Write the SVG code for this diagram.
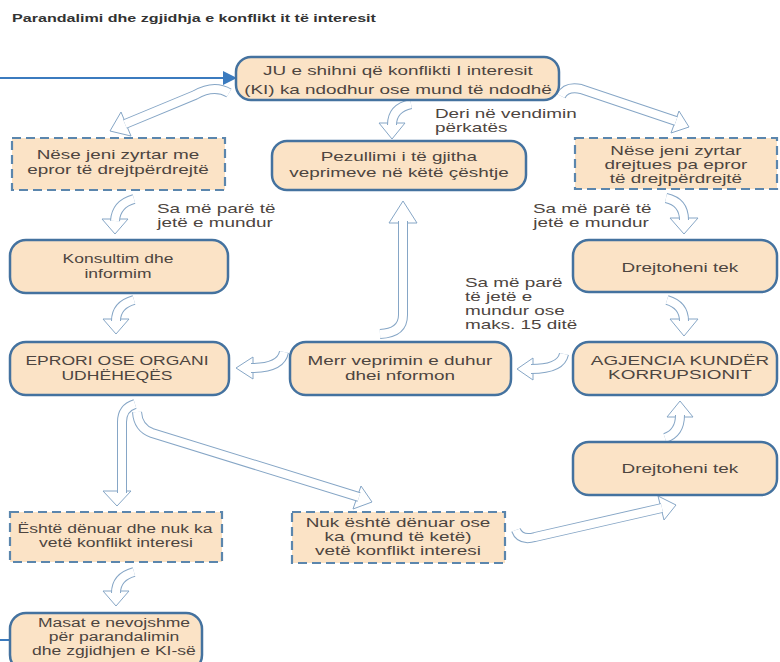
<svg xmlns="http://www.w3.org/2000/svg" width="780" height="662" viewBox="0 0 780 662">
<style>
.bx{fill:#fbe3c6;stroke:#44729f;stroke-width:2.5}
.dx{fill:#fbe3c6;stroke:#5b86ad;stroke-width:2.2;stroke-dasharray:9 5}
text{font-family:"Liberation Sans",Arial,sans-serif;font-size:13.5px;fill:#4d4540}
.c{text-anchor:middle;transform-box:fill-box;transform-origin:center;transform:scaleX(1.4)}
.c2{text-anchor:middle;transform-box:fill-box;transform-origin:center;transform:scaleX(1.3)}
.l{transform-box:fill-box;transform-origin:left center;transform:scaleX(1.4)}
.ks{font-size:12.5px}
.title{font-weight:bold;font-size:11.5px;fill:#333}
.bo{fill:none;stroke:#86a6c6;stroke-width:10}
.bi{fill:none;stroke:#fff;stroke-width:8}
.hd{fill:#fff;stroke:#86a6c6;stroke-width:1}
.ln{fill:none;stroke:#3b7bbf;stroke-width:2}
</style>
<rect width="780" height="662" fill="#fff"/>
<text x="12" y="22" class="title l">Parandalimi dhe zgjidhja e konflikt it të interesit</text>

<g id="connectors">
  <path class="ln" d="M0 78 L225 78"/>
  <polygon points="223,71 237,78 223,85" fill="#3b7bbf"/>
  <path class="ln" d="M0 640 L10 640"/>
  <!-- JU -> left dashed -->
  <g><polygon class="hd" points="121,112 131,136 110,131"/><path class="bo" d="M229 93 Q214 84 195 95 L125 124"/><path class="bi" d="M229 93 Q214 84 195 95 L125 124"/></g>
  <!-- JU -> Pezullimi -->
  <g><polygon class="hd" points="379,123 405,123 392,139"/><path class="bo" d="M411 104 Q392 108 392 125"/><path class="bi" d="M411 104 Q392 108 392 125"/></g>
  <!-- JU -> right dashed -->
  <g><polygon class="hd" points="671,133 679,111 689,127"/><path class="bo" d="M561 96 Q566 86 581 89 L676 121"/><path class="bi" d="M561 96 Q566 86 581 89 L676 121"/></g>
  <!-- left dashed -> Konsultim -->
  <g><polygon class="hd" points="102,219 128,219 115,234"/><path class="bo" d="M134 199 Q116 204 115 221"/><path class="bi" d="M134 199 Q116 204 115 221"/></g>
  <!-- right dashed -> Drejtoheni -->
  <g><polygon class="hd" points="670,218 698,218 684,234"/><path class="bo" d="M666 198 Q684 202 684 220"/><path class="bi" d="M666 198 Q684 202 684 220"/></g>
  <!-- Konsultim -> EPRORI -->
  <g><polygon class="hd" points="103,319 129,319 116,334"/><path class="bo" d="M134 300 Q116 305 116 321"/><path class="bi" d="M134 300 Q116 305 116 321"/></g>
  <!-- Drejtoheni -> AGJENCIA -->
  <g><polygon class="hd" points="670,319 698,319 684,336"/><path class="bo" d="M667 300 Q684 305 684 321"/><path class="bi" d="M667 300 Q684 305 684 321"/></g>
  <!-- AGJENCIA -> Merr -->
  <g><polygon class="hd" points="533,358 533,380 517,369"/><path class="bo" d="M564 354 Q561 369 531 369"/><path class="bi" d="M564 354 Q561 369 531 369"/></g>
  <!-- Merr -> EPRORI -->
  <g><polygon class="hd" points="253,357 253,379 236,368"/><path class="bo" d="M284 352 Q281 368 251 368"/><path class="bi" d="M284 352 Q281 368 251 368"/></g>
  <!-- Merr -> Pezullimi -->
  <g><polygon class="hd" points="389,223 417,223 403,201"/><path class="bo" d="M380 334 Q403 333 403 315 L403 221"/><path class="bi" d="M380 334 Q403 333 403 315 L403 221"/></g>
  <!-- EPRORI -> Eshte -->
  <g><polygon class="hd" points="103,491 131,491 117,506"/><path class="bo" d="M135 404 Q122 408 122 422 L122 493"/><path class="bi" d="M135 404 Q122 408 122 422 L122 493"/></g>
  <!-- EPRORI -> Nuk -->
  <g><polygon class="hd" points="353,509 361,486 372,502"/><path class="bo" d="M137 412 Q138 428 152 433 L359 497"/><path class="bi" d="M137 412 Q138 428 152 433 L359 497"/></g>
  <!-- Eshte -> Masat -->
  <g><polygon class="hd" points="103,591 129,591 116,606"/><path class="bo" d="M134 572 Q116 577 116 593"/><path class="bi" d="M134 572 Q116 577 116 593"/></g>
  <!-- Nuk -> Drejtoheni 2 -->
  <g><polygon class="hd" points="664,520 658,496 676,505"/><path class="bo" d="M516 530 Q520 541 535 537 L662 508"/><path class="bi" d="M516 530 Q520 541 535 537 L662 508"/></g>
  <!-- Drejtoheni 2 -> AGJENCIA -->
  <g><polygon class="hd" points="667,417 693,417 680,401"/><path class="bo" d="M665 438 Q680 433 680 415"/><path class="bi" d="M665 438 Q680 433 680 415"/></g>
</g>

<g id="n_ju"><rect class="bx" x="236" y="57" width="323" height="43" rx="15"/>
<text class="c" x="398" y="75">JU e shihni që konflikti I interesit</text>
<text class="c" x="398" y="94">(KI) ka ndodhur ose mund të ndodhë</text></g>

<g id="n_left"><rect class="dx" x="12" y="138" width="213" height="52"/>
<text class="c" x="118" y="159">Nëse jeni zyrtar me</text>
<text class="c" x="118" y="174">epror të drejtpërdrejtë</text></g>

<g id="n_pez"><rect class="bx" x="272" y="141" width="254" height="49" rx="15"/>
<text class="c" x="399" y="161">Pezullimi i të gjitha</text>
<text class="c" x="399" y="177">veprimeve në këtë çështje</text></g>

<g id="n_right"><rect class="dx" x="575" y="138" width="202" height="51"/>
<text class="c" x="676" y="155">Nëse jeni zyrtar</text>
<text class="c" x="676" y="169">drejtues pa epror</text>
<text class="c" x="676" y="183">të drejtpërdrejtë</text></g>

<g id="n_kons"><rect class="bx" x="10" y="240" width="218" height="53" rx="16"/>
<text class="c ks" x="118" y="263">Konsultim dhe</text>
<text class="c ks" x="118" y="278">informim</text></g>

<g id="n_drej1"><rect class="bx" x="573" y="240" width="204" height="52" rx="16"/>
<text class="c" x="680" y="272">Drejtoheni tek</text></g>

<g id="n_epr"><rect class="bx" x="10" y="342" width="219" height="53" rx="16"/>
<text class="c2" x="117" y="365">EPRORI OSE ORGANI</text>
<text class="c2" x="117" y="380">UDHËHEQËS</text></g>

<g id="n_merr"><rect class="bx" x="290" y="342" width="221" height="53" rx="16"/>
<text class="c" x="400" y="365">Merr veprimin e duhur</text>
<text class="c" x="400" y="380">dhei nformon</text></g>

<g id="n_agj"><rect class="bx" x="573" y="342" width="204" height="53" rx="16"/>
<text class="c" x="680" y="365">AGJENCIA KUNDËR</text>
<text class="c" x="680" y="379">KORRUPSIONIT</text></g>

<g id="n_drej2"><rect class="bx" x="573" y="442" width="204" height="53" rx="16"/>
<text class="c" x="680" y="473">Drejtoheni tek</text></g>

<g id="n_esh"><rect class="dx" x="10" y="512" width="212" height="50"/>
<text class="c2" x="115" y="533">Është dënuar dhe nuk ka</text>
<text class="c2" x="116" y="547">vetë konflikt interesi</text></g>

<g id="n_nuk"><rect class="dx" x="292" y="512" width="213" height="51"/>
<text class="c" x="398" y="527">Nuk është dënuar ose</text>
<text class="c" x="398" y="541">ka (mund të ketë)</text>
<text class="c" x="398" y="555">vetë konflikt interesi</text></g>

<g id="n_mas"><rect class="bx" x="10" y="613" width="192" height="58" rx="16"/>
<text class="c2" x="114" y="627">Masat e nevojshme</text>
<text class="c2" x="114" y="641">për parandalimin</text>
<text class="c2" x="114" y="655">dhe zgjidhjen e KI-së</text></g>

<g id="labels">
<text class="l" x="435" y="118">Deri në vendimin</text>
<text class="l" x="435" y="132">përkatës</text>
<text class="l" x="157" y="213">Sa më parë të</text>
<text class="l" x="157" y="227">jetë e mundur</text>
<text class="l" x="533" y="213">Sa më parë të</text>
<text class="l" x="533" y="227">jetë e mundur</text>
<text class="l" x="465" y="287">Sa më parë</text>
<text class="l" x="465" y="301">të jetë e</text>
<text class="l" x="465" y="315">mundur ose</text>
<text class="l" x="465" y="329">maks. 15 ditë</text>
</g>
</svg>
